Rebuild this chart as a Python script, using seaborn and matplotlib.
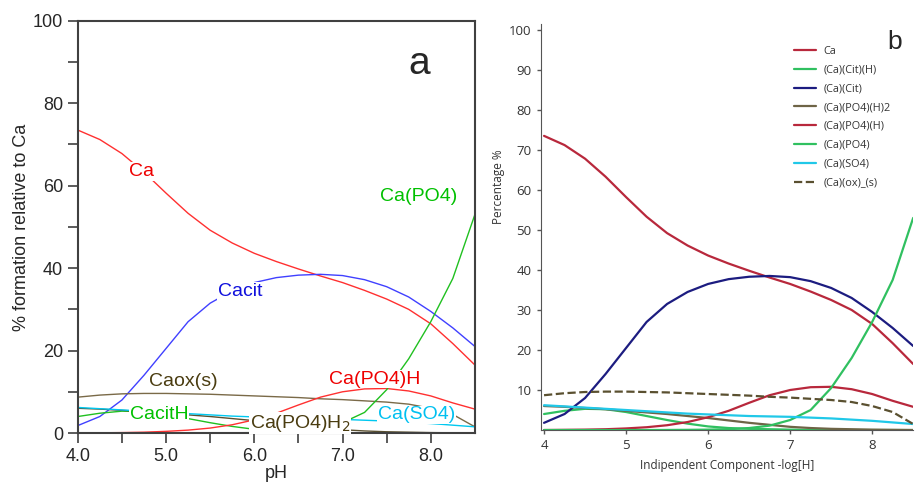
import pandas as pd
import matplotlib.pyplot as plt
import seaborn as sns

sns.set_style("ticks")
plt.rcParams['font.family'] = ['Liberation Sans', 'DejaVu Sans']

# pH grid and species distribution (% of total Ca)
ph = [4.0, 4.25, 4.5, 4.75, 5.0, 5.25, 5.5, 5.75, 6.0, 6.25,
      6.5, 6.75, 7.0, 7.25, 7.5, 7.75, 8.0, 8.25, 8.5]
ca = [73.5, 71.2, 67.8, 63.3, 58.2, 53.3, 49.2, 46.1, 43.6, 41.6,
      39.8, 38.1, 36.5, 34.6, 32.5, 30.0, 26.5, 21.7, 16.5]
cacit = [1.8, 4.0, 8.0, 14.0, 20.5, 27.0, 31.5, 34.5, 36.5, 37.7,
         38.3, 38.5, 38.2, 37.2, 35.5, 33.0, 29.5, 25.5, 21.0]
cacith = [4.0, 4.8, 5.3, 5.2, 4.5, 3.5, 2.5, 1.6, 0.9, 0.5,
          0.3, 0.2, 0.1, 0.05, 0.02, 0.0, 0.0, 0.0, 0.0]
capo4 = [0.0, 0.0, 0.0, 0.0, 0.0, 0.0, 0.02, 0.05, 0.1, 0.2,
         0.5, 1.1, 2.5, 5.0, 10.5, 18.0, 27.0, 37.5, 53.0]
capo4h = [0.0, 0.05, 0.1, 0.2, 0.4, 0.7, 1.2, 2.0, 3.2, 4.8,
          6.8, 8.7, 10.0, 10.7, 10.8, 10.2, 9.0, 7.3, 5.8]
capo4h2 = [6.0, 5.8, 5.5, 5.2, 4.8, 4.4, 4.0, 3.5, 3.0, 2.4,
           1.8, 1.3, 0.8, 0.5, 0.3, 0.2, 0.1, 0.05, 0.0]
caso4 = [6.2, 5.9, 5.6, 5.3, 5.0, 4.7, 4.4, 4.1, 3.9, 3.7,
         3.5, 3.4, 3.3, 3.1, 2.9, 2.6, 2.3, 1.9, 1.5]
caox = [8.7, 9.2, 9.5, 9.6, 9.6, 9.5, 9.4, 9.2, 9.0, 8.8,
        8.6, 8.3, 8.1, 7.8, 7.5, 7.0, 6.0, 4.5, 1.5]

fig = plt.figure(figsize=(9.15, 4.96), dpi=100)
ax1 = fig.add_axes([0.085, 0.127, 0.434, 0.831])
ax2 = fig.add_axes([0.591, 0.133, 0.407, 0.819])

# ---- panel a: labelled curves ----
left_series = [
    (ca, '#ff3030', 'Ca', 4.72, 63.5, '#ee0000'),
    (cacit, '#4040ff', 'Cacit', 5.84, 34.3, '#1010dd'),
    (caox, '#7a6a48', 'Caox(s)', 5.2, 12.4, '#4a3c10'),
    (cacith, '#20c020', 'CacitH', 4.92, 4.4, '#00c000'),
    (capo4h2, '#5a5030', 'Ca(PO4)H$_2$', 6.52, 2.4, '#4a3c10'),
    (capo4h, '#ff3030', 'Ca(PO4)H', 7.36, 13.1, '#ee0000'),
    (caso4, '#00c8f0', 'Ca(SO4)', 7.84, 4.4, '#00c0f0'),
    (capo4, '#20c020', 'Ca(PO4)', 7.86, 57.3, '#00c000'),
]
for vals, col, lab, tx, ty, tcol in left_series:
    sns.lineplot(x=ph, y=vals, color=col, linewidth=1.0, ax=ax1)
for vals, col, lab, tx, ty, tcol in left_series:
    ax1.text(tx, ty, lab, color=tcol, fontsize=14, ha='center', va='center',
             zorder=5, bbox=dict(facecolor='white', edgecolor='none', pad=0.5))

ax1.set_xlim(4.0, 8.5)
ax1.set_ylim(0, 100)
ax1.set_xticks([4.0, 5.0, 6.0, 7.0, 8.0])
ax1.set_xticklabels(['4.0', '5.0', '6.0', '7.0', '8.0'])
ax1.set_xticks([4.5, 5.5, 6.5, 7.5], minor=True)
ax1.set_yticks([0, 20, 40, 60, 80, 100])
ax1.set_yticks([10, 30, 50, 70, 90], minor=True)
ax1.tick_params(axis='both', which='major', labelsize=13, length=7,
                width=1.2, color='#404040')
ax1.tick_params(axis='both', which='minor', length=7, width=1.2, color='#404040')
ax1.set_xlabel('pH', fontsize=13, labelpad=0)
ax1.set_ylabel('% formation relative to Ca', fontsize=13, labelpad=2)
for sp in ax1.spines.values():
    sp.set_color('#404040')
    sp.set_linewidth(1.5)
ax1.text(0.86, 0.895, 'a', transform=ax1.transAxes, fontsize=28,
         ha='center', va='center')

# ---- panel b: legend curves ----
right_series = [
    ('Ca', ca, '#b8283c', '-'),
    ('(Ca)(Cit)(H)', cacith, '#30c060', '-'),
    ('(Ca)(Cit)', cacit, '#1c1c80', '-'),
    ('(Ca)(PO4)(H)2', capo4h2, '#6e6446', '-'),
    ('(Ca)(PO4)(H)', capo4h, '#b8283c', '-'),
    ('(Ca)(PO4)', capo4, '#30c060', '-'),
    ('(Ca)(SO4)', caso4, '#20c8e8', '-'),
    ('(Ca)(ox)_(s)', caox, '#5a5030', '--'),
]
for name, vals, col, ls in right_series:
    sns.lineplot(x=ph, y=vals, color=col, linestyle=ls, linewidth=1.6,
                 label=name, ax=ax2)

ax2.set_xlim(3.96, 8.5)
ax2.set_ylim(0, 101.5)
ax2.set_xticks([4, 5, 6, 7, 8])
ax2.set_yticks([10, 20, 30, 40, 50, 60, 70, 80, 90, 100])
ax2.tick_params(axis='both', labelsize=9.5, length=3, width=1,
                color='#555555', labelcolor='#333333')
for lbl in ax2.get_xticklabels() + ax2.get_yticklabels():
    lbl.set_family(['Open Sans', 'DejaVu Sans'])
ax2.set_xlabel('Indipendent Component -log[H]', fontsize=8.5,
               family=['Open Sans', 'DejaVu Sans'], color='#333333', labelpad=5)
ax2.set_ylabel('Percentage %', fontsize=8.5,
               family=['Open Sans', 'DejaVu Sans'], color='#333333')
ax2.yaxis.set_label_coords(-0.095, 0.6)
sns.despine(ax=ax2)
ax2.spines['left'].set_color('#555555')
ax2.spines['bottom'].set_color('#555555')
leg = ax2.legend(loc='upper right', bbox_to_anchor=(0.965, 0.97), frameon=False,
                 prop={'family': ['Open Sans', 'DejaVu Sans'], 'size': 7.8},
                 handlelength=2.0, labelspacing=0.72, handletextpad=0.7)
for t in leg.get_texts():
    t.set_color('#333333')
ax2.text(0.95, 0.955, 'b', transform=ax2.transAxes, fontsize=19,
         ha='center', va='center')

fig.savefig('out.png', dpi=100)
